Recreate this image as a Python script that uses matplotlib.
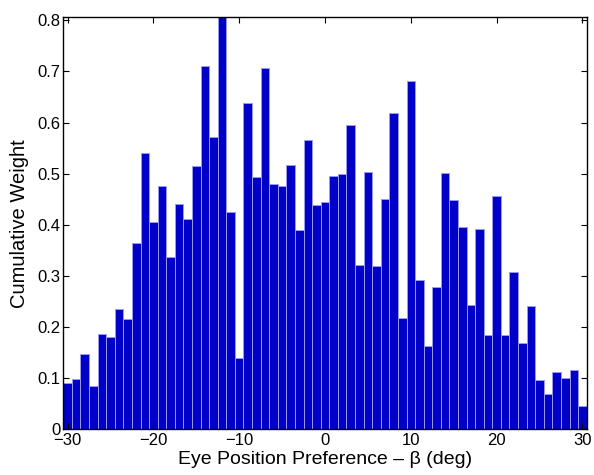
import matplotlib
matplotlib.use("Agg")
import matplotlib.pyplot as plt
import numpy as np

plt.rcParams['font.family'] = ['Liberation Sans', 'DejaVu Sans']

centers = list(range(-30, 31))
weights = [0.090, 0.098, 0.147, 0.084, 0.186, 0.181, 0.235, 0.216, 0.365, 0.540,
           0.405, 0.476, 0.337, 0.441, 0.411, 0.514, 0.710, 0.571, 0.830, 0.424,
           0.140, 0.639, 0.494, 0.707, 0.480, 0.476, 0.517, 0.389, 0.565, 0.439,
           0.445, 0.495, 0.500, 0.595, 0.321, 0.503, 0.319, 0.450, 0.619, 0.217,
           0.681, 0.291, 0.163, 0.278, 0.501, 0.448, 0.396, 0.242, 0.392, 0.185,
           0.456, 0.184, 0.307, 0.169, 0.240, 0.096, 0.068, 0.112, 0.099, 0.115,
           0.045]
xticks = [-30, -20, -10, 0, 10, 20, 30]
yticks = [0, 0.1, 0.2, 0.3, 0.4, 0.5, 0.6, 0.7, 0.8]
ytick_labels = ['0', '0.1', '0.2', '0.3', '0.4', '0.5', '0.6', '0.7', '0.8']

fig = plt.figure(figsize=(5.94, 4.75), dpi=100)
ax = fig.add_axes([0.1066, 0.0968, 0.8811, 0.8668])
ax.bar(centers, weights, width=1.0, color='#0000c8', edgecolor='#9a9af0', linewidth=0.7)
ax.set_xlim(-30.5, 30.5)
ax.set_ylim(0, 0.806)
ax.set_xticks(xticks)
ax.set_xticklabels([str(t).replace('-', '\u2212') for t in xticks])
ax.set_yticks(yticks)
ax.set_yticklabels(ytick_labels)
ax.tick_params(direction='in', top=True, right=True, length=4, width=0.8, labelsize=12, pad=2)
ax.tick_params(axis='x', pad=3)
for s in ax.spines.values():
    s.set_linewidth(1.0)
ax.set_xlabel('Eye Position Preference \u2013 \u03b2 (deg)', fontsize=14, labelpad=2)
ax.set_ylabel('Cumulative Weight', fontsize=14.5, labelpad=6)
fig.savefig('out.png', dpi=100)
